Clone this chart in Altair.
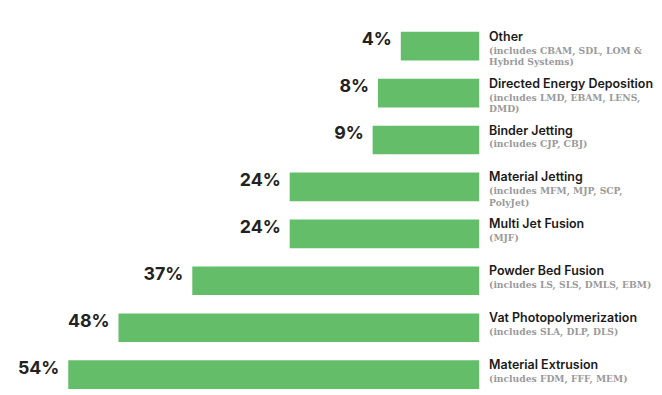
import altair as alt
import pandas as pd

categories = ["Other", "Directed Energy Deposition", "Binder Jetting", "Material Jetting",
              "Multi Jet Fusion", "Powder Bed Fusion", "Vat Photopolymerization", "Material Extrusion"]
details = ["(includes CBAM, SDL, LOM &\nHybrid Systems)", "(includes LMD, EBAM, LENS,\nDMD)",
           "(includes CJP, CBJ)", "(includes MFM, MJP, SCP,\nPolyJet)", "(MJF)",
           "(includes LS, SLS, DMLS, EBM)", "(includes SLA, DLP, DLS)", "(includes FDM, FFF, MEM)"]
values = [4, 8, 9, 24, 24, 37, 48, 54]
# drawn bar lengths (the original is not to scale for small values)
bar_len = [10.3, 13.3, 14.0, 24.9, 24.9, 37.7, 47.4, 54.0]

df = pd.DataFrame({"cat": categories, "detail": details, "value": values, "len": bar_len,
                   "label": [f"{v}%" for v in values]})

xs = alt.Scale(domain=[0, 54], range=[477, 61])
ys = alt.Scale(domain=categories, range=[12.5, 392.5], paddingInner=0.39, paddingOuter=0.195)
Y = alt.Y("cat:N", scale=ys, axis=None, sort=categories)

bars = alt.Chart(df).mark_bar(color="#64BD69").encode(
    x=alt.X("len:Q", scale=xs, axis=None), y=Y)

pct = alt.Chart(df).mark_text(align="right", baseline="middle", dx=-9, dy=-6,
                              font="Inter", fontWeight=700, fontSize=18, color="#222222").encode(
    x=alt.X("len:Q", scale=xs), y=Y, text="label:N")

names = alt.Chart(df).mark_text(align="left", baseline="alphabetic", dy=-5.5,
                                font="Inter", fontWeight=600, fontSize=12.6, color="#1a1a1a").encode(
    x=alt.value(487), y=Y, text="cat:N")

subs = alt.Chart(df).mark_text(align="left", baseline="alphabetic", dy=7.5, lineBreak="\n",
                               lineHeight=12, font="DejaVu Serif", fontWeight=700, fontSize=9.3,
                               color="#9a9a9a").encode(
    x=alt.value(487), y=Y, text="detail:N")

chart = alt.layer(bars, pct, names, subs).properties(
    width=654, height=387, autosize=alt.AutoSizeParams(type="none"), padding=0
).configure_view(stroke=None)

chart.save("out.html", embed_options={"renderer": "svg", "actions": False})
